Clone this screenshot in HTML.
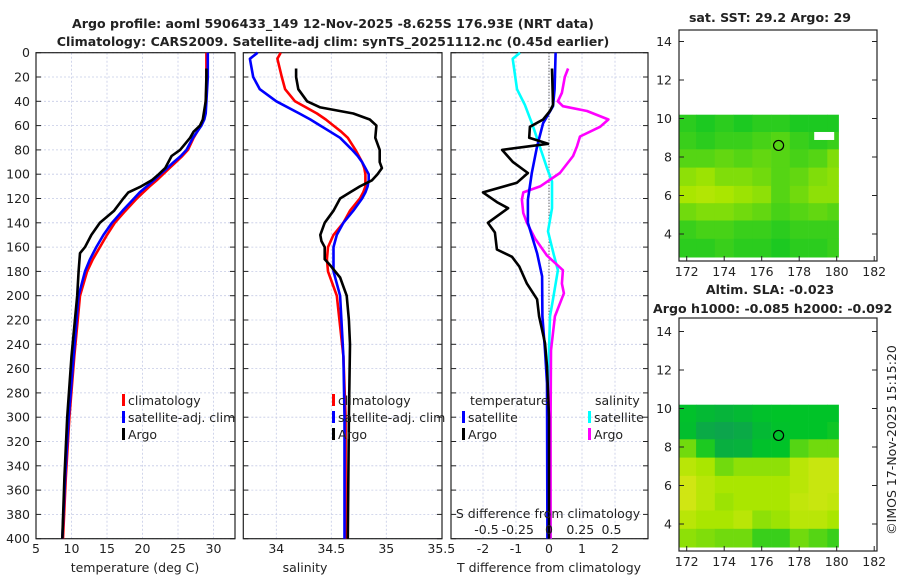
<!DOCTYPE html>
<html><head><meta charset="utf-8"><style>
body{margin:0;background:#fff}
svg{display:block;font-family:"DejaVu Sans","Liberation Sans",sans-serif}
</style></head><body>
<svg id="c" width="900" height="580" viewBox="0 0 900 580" xmlns="http://www.w3.org/2000/svg"></svg>
<script>
// ---- data ----
const pres = [0,5,20,30,40,50,55,60,65,70,80,85,90,95,100,105,110,115,120,130,140,150,160,170,180,200,250,300,350,400];
const tClim = [29.0,29.0,29.0,29.0,28.9,28.8,28.6,28.2,27.7,27.2,26.4,25.6,24.7,23.8,22.9,22.0,21.0,20.1,19.2,17.6,16.1,15.0,14.0,13.0,12.2,11.2,10.4,9.7,9.2,8.8];
const tSat  = [29.2,29.2,29.2,29.1,29.0,28.9,28.7,28.3,27.7,27.1,26.2,25.4,24.4,23.5,22.5,21.6,20.6,19.6,18.8,17.2,15.7,14.5,13.5,12.6,11.9,11.0,10.3,9.6,9.1,8.7];
const tArgoP = [13,20,40,55,60,65,70,80,85,95,100,105,110,115,120,130,140,150,160,165,180,200,250,300,350,400];
const tArgo  = [29.0,29.0,28.9,28.5,28.1,27.2,26.7,25.3,24.1,23.2,22.3,21.3,19.8,18.0,17.3,16.0,14.0,12.8,11.9,11.2,11.0,10.8,10.0,9.4,9.0,8.7];
const sClim = [34.04,34.01,34.05,34.08,34.17,34.37,34.45,34.52,34.59,34.65,34.72,34.75,34.78,34.80,34.81,34.81,34.81,34.79,34.76,34.67,34.61,34.52,34.47,34.46,34.47,34.55,34.61,34.63,34.63,34.63];
const sSat  = [33.83,33.76,33.79,33.85,34.00,34.21,34.31,34.40,34.49,34.58,34.69,34.74,34.78,34.81,34.84,34.84,34.83,34.81,34.78,34.70,34.61,34.55,34.52,34.52,34.52,34.58,34.61,34.62,34.62,34.62];
const sArgoP = [13,20,30,40,45,50,55,60,70,80,90,95,100,105,110,115,120,130,140,150,155,160,170,175,185,200,220,240,300,400];
const sArgo  = [34.18,34.18,34.20,34.28,34.40,34.70,34.85,34.91,34.90,34.94,34.94,34.96,34.92,34.87,34.76,34.67,34.58,34.52,34.44,34.40,34.41,34.44,34.44,34.49,34.58,34.64,34.66,34.67,34.66,34.65];
const dTsatP = [0,30,44,58,77,99,121,140,165,184,217,245,272,400];
const dTsat  = [0.2,0.17,0.12,-0.18,-0.36,-0.52,-0.64,-0.64,-0.36,-0.21,-0.2,-0.12,-0.06,-0.05];
const dTargoP = [13,43,48,55,61,70,75,80,90,99,107,115,123,128,140,148,162,168,176,190,203,217,239,258,300,400];
const dTargo  = [0.09,0.12,0.03,-0.18,-0.58,-0.6,-0.03,-1.42,-1.09,-0.64,-0.97,-2.0,-1.58,-1.24,-1.85,-1.64,-1.58,-1.12,-0.9,-0.67,-0.36,-0.3,-0.12,-0.06,0.0,0.0];
const dSsatP = [0,5,30,43,61,78,95,106,128,147,167,179,203,217,245,400];
const dSsat  = [-0.88,-1.1,-0.97,-0.73,-0.48,-0.27,-0.06,0.09,0.09,-0.03,0.15,0.27,0.12,0.03,0.0,0.05];
const dSargoP = [13,20,33,40,44,48,55,61,69,77,85,99,110,115,121,132,140,153,167,179,190,198,217,245,300,400];
const dSargo  = [0.58,0.48,0.39,0.27,0.42,1.15,1.8,1.55,0.94,0.85,0.73,0.33,-0.27,-0.78,-0.82,-0.78,-0.67,-0.42,-0.06,0.42,0.39,0.45,0.18,0.06,0.05,0.05];
const depthTicks = [0,20,40,60,80,100,120,140,160,180,200,220,240,260,280,300,320,340,360,380,400];
const tTicks = [5,10,15,20,25,30];
const sTicks = [34,34.5,35,35.5];
const dTicks = [-2,-1,0,1,2];
const sDiffTickLabels = ["-0.5","-0.25","0","0.25","0.5"];
const sDiffTickVals = [-0.5,-0.25,0,0.25,0.5];
const lonTicks = [172,174,176,178,180,182];
const latTicks = [4,6,8,10,12,14];
const mapLonEdges = [171.6,172.5,173.5,174.5,175.5,176.5,177.5,178.5,179.5,180.1];
const mapLatEdges = [10.2,9.3,8.4,7.45,6.5,5.6,4.7,3.75,2.8];
const sstGrid = [
 [.15,.1,.15,.1,.15,.15,.1,.1,.1],
 [.2,.15,.2,.2,.25,.3,.2,.15,.2],
 [.3,.3,.35,.3,.35,.3,.25,.3,.45],
 [.5,.55,.45,.45,.4,.3,.35,.45,.5],
 [.6,.65,.6,.55,.5,.3,.4,.5,.5],
 [.4,.45,.45,.4,.35,.25,.3,.35,.3],
 [.2,.25,.25,.2,.2,.15,.2,.2,.2],
 [.15,.15,.2,.15,.15,.1,.15,.15,.2]];
const slaGrid = [
 [-.05,-.2,-.3,-.2,-.05,0,0,0,0],
 [-.1,-.5,-.6,-.5,-.2,-.05,0,0,.05],
 [.4,.1,-.4,-.35,-.05,0,.3,.4,.4],
 [.7,.6,.4,.5,.5,.5,.7,.8,.8],
 [.85,.7,.6,.6,.6,.6,.7,.8,.8],
 [.85,.7,.55,.6,.6,.6,.75,.8,.75],
 [.7,.6,.6,.7,.5,.55,.7,.7,.6],
 [.5,.45,.4,.4,.2,.2,.4,.3,.2]];
const argoLon = 176.9, argoLat = 8.6;

// ---- helpers ----
const NS="http://www.w3.org/2000/svg", svg=document.getElementById('c');
function mk(tag,attrs,parent){const e=document.createElementNS(NS,tag);for(const k in attrs)e.setAttribute(k,attrs[k]);(parent||svg).appendChild(e);return e;}
function txt(x,y,s,o){const e=mk('text',Object.assign({x:x,y:y,'font-size':12.5,fill:'#222'},o||{}));e.textContent=s;return e;}
const py=p=>52.7+p*1.215;
const Y0=52.7,Y1=538.7;
const px1=t=>36+(t-5)*7.1;
const px2=s=>243.3+(s-33.7)*110;
const px3=d=>549+d*33;
const panels=[{x0:36,x1:235,name:'temperature-panel'},{x0:243.3,x1:442,name:'salinity-panel'},{x0:451,x1:648,name:'difference-panel'}];

function line(ps,vs,fx,color,name,w){
  let d='';ps.forEach((p,i)=>{d+=(i?'L':'M')+fx(vs[i]).toFixed(1)+','+py(p).toFixed(1);});
  const e=mk('path',{d:d,fill:'none',stroke:color,'stroke-width':w||2.6,'stroke-linejoin':'round'});
  
  
}

const xt=[[tTicks,px1],[sTicks,px2],[dTicks,px3]];
panels.forEach((P,i)=>{
  const g=mk('g',{});
  
  
  depthTicks.forEach(p=>{mk('line',{x1:P.x0,x2:P.x1,y1:py(p),y2:py(p),stroke:'#c5cbe6','stroke-width':0.8,'stroke-dasharray':'2,2'},g);
    mk('line',{x1:P.x0,x2:P.x0+5,y1:py(p),y2:py(p),stroke:'#222'},g);mk('line',{x1:P.x1-5,x2:P.x1,y1:py(p),y2:py(p),stroke:'#222'},g);});
  xt[i][0].forEach(v=>{const x=xt[i][1](v);if(x>P.x0+1&&x<P.x1-1)mk('line',{x1:x,x2:x,y1:Y0,y2:Y1,stroke:'#c5cbe6','stroke-width':0.8,'stroke-dasharray':'2,2'},g);
    const t=txt(x,553,String(v),{'text-anchor':'middle'});});
  mk('rect',{x:P.x0,y:Y0,width:P.x1-P.x0,height:Y1-Y0,fill:'none',stroke:'#222','stroke-width':1.2},g);
});
depthTicks.forEach(p=>{const t=txt(30,py(p)+4.5,String(p),{'text-anchor':'end'});});
mk('line',{x1:549,x2:549,y1:Y0,y2:Y1,stroke:'#333','stroke-width':1,'stroke-dasharray':'1,2'});

line(pres,tClim,px1,'#f00','temp-climatology-line');
line(pres,tSat,px1,'#00f','temp-satellite-line');
line(tArgoP,tArgo,px1,'#000','temp-argo-line');
line(pres,sClim,px2,'#f00','sal-climatology-line');
line(pres,sSat,px2,'#00f','sal-satellite-line');
line(sArgoP,sArgo,px2,'#000','sal-argo-line');
line(dSsatP,dSsat,px3,'#0ff','sal-diff-satellite-line');
line(dSargoP,dSargo,px3,'#f0f','sal-diff-argo-line');
line(dTsatP,dTsat,px3,'#00f','temp-diff-satellite-line');
line(dTargoP,dTargo,px3,'#000','temp-diff-argo-line');

function leg(x,y,c,s){mk('rect',{x:x,y:y-11,width:3,height:12,fill:c});const t=txt(x+6,y,s);}
[[122,'climatology','#f00'],[122,'satellite-adj. clim','#00f'],[122,'Argo','#000']].forEach((l,i)=>leg(l[0],405+i*17,l[2],l[1]));
[[332,'climatology','#f00'],[332,'satellite-adj. clim','#00f'],[332,'Argo','#000']].forEach((l,i)=>leg(l[0],405+i*17,l[2],l[1]));
txt(470,405,'temperature');leg(462,422,'#00f','satellite');leg(462,439,'#000','Argo');
txt(595,405,'salinity');leg(588,422,'#0ff','satellite');leg(588,439,'#f0f','Argo');
txt(548,518,'S difference from climatology',{'text-anchor':'middle'});
sDiffTickVals.forEach((v,i)=>txt(549+v*125,534,sDiffTickLabels[i],{'text-anchor':'middle'}));

txt(135,572,'temperature (deg C)',{'text-anchor':'middle'});
txt(305,572,'salinity',{'text-anchor':'middle'});
txt(549,572,'T difference from climatology',{'text-anchor':'middle'});
const t1=txt(333,28,'Argo profile: aoml 5906433_149 12-Nov-2025 -8.625S 176.93E (NRT data)',{'text-anchor':'middle','font-weight':'bold','font-size':12.6});

const t2=txt(333,46,'Climatology: CARS2009. Satellite-adj clim: synTS_20251112.nc (0.45d earlier)',{'text-anchor':'middle','font-weight':'bold','font-size':12.6});


function col(v){let a,b,f;
  if(v<0){a=[0,195,40];b=[20,145,100];f=-v;}
  else if(v<0.6){a=[0,195,40];b=[170,230,0];f=v/0.6;}
  else{a=[170,230,0];b=[230,230,30];f=(v-0.6)/0.4;}
  return 'rgb('+a.map((c,i)=>Math.round(c+(b[i]-c)*f)).join(',')+')';}
function map(top,bot,grid,name){
  const lx=l=>686.7+(l-172)*18.75, ly=l=>(bot-27)-(l-4)*19.25;
  const g=mk('g',{});
  
  
  grid.forEach((row,r)=>row.forEach((v,c)=>{
    const x=lx(mapLonEdges[c]),x2=lx(mapLonEdges[c+1]),y=ly(mapLatEdges[r]),y2=ly(mapLatEdges[r+1]);
    const e=mk('rect',{x:x.toFixed(1),y:y.toFixed(1),width:(x2-x+0.4).toFixed(1),height:(y2-y+0.4).toFixed(1),fill:col(v)},g);
    
    
  }));
  const ci=mk('circle',{cx:lx(argoLon),cy:ly(argoLat),r:5,fill:'none',stroke:'#000','stroke-width':1.2},g);
  
  
  mk('rect',{x:679,y:top,width:198,height:bot-top,fill:'none',stroke:'#222','stroke-width':1.2},g);
  lonTicks.forEach(l=>{const x=lx(l);mk('line',{x1:x,x2:x,y1:bot,y2:bot-5,stroke:'#222'},g);txt(x,bot+15,String(l),{'text-anchor':'middle'});});
  latTicks.forEach(l=>{const y=ly(l);mk('line',{x1:679,x2:684,y1:y,y2:y,stroke:'#222'},g);mk('line',{x1:872,x2:877,y1:y,y2:y,stroke:'#222'},g);txt(672,y+4.5,String(l),{'text-anchor':'end'});});
  return {lx,ly};
}
const m1=map(30,261,sstGrid,'sst-map');
mk('rect',{x:m1.lx(178.8),y:m1.ly(9.3),width:20,height:8,fill:'#fff'});
const m2=map(318,551,slaGrid,'sla-map');
txt(770,22,'sat. SST: 29.2 Argo: 29',{'text-anchor':'middle','font-weight':'bold','font-size':12.6});
txt(770,294,'Altim. SLA: -0.023',{'text-anchor':'middle','font-weight':'bold','font-size':12.6});
txt(653,313,'Argo h1000: -0.085 h2000: -0.092',{'font-weight':'bold','font-size':12.6});
const cr=txt(0,0,'©IMOS 17-Nov-2025 15:15:20',{'text-anchor':'middle',transform:'translate(896,440) rotate(-90)'});


</script>
</body></html>
